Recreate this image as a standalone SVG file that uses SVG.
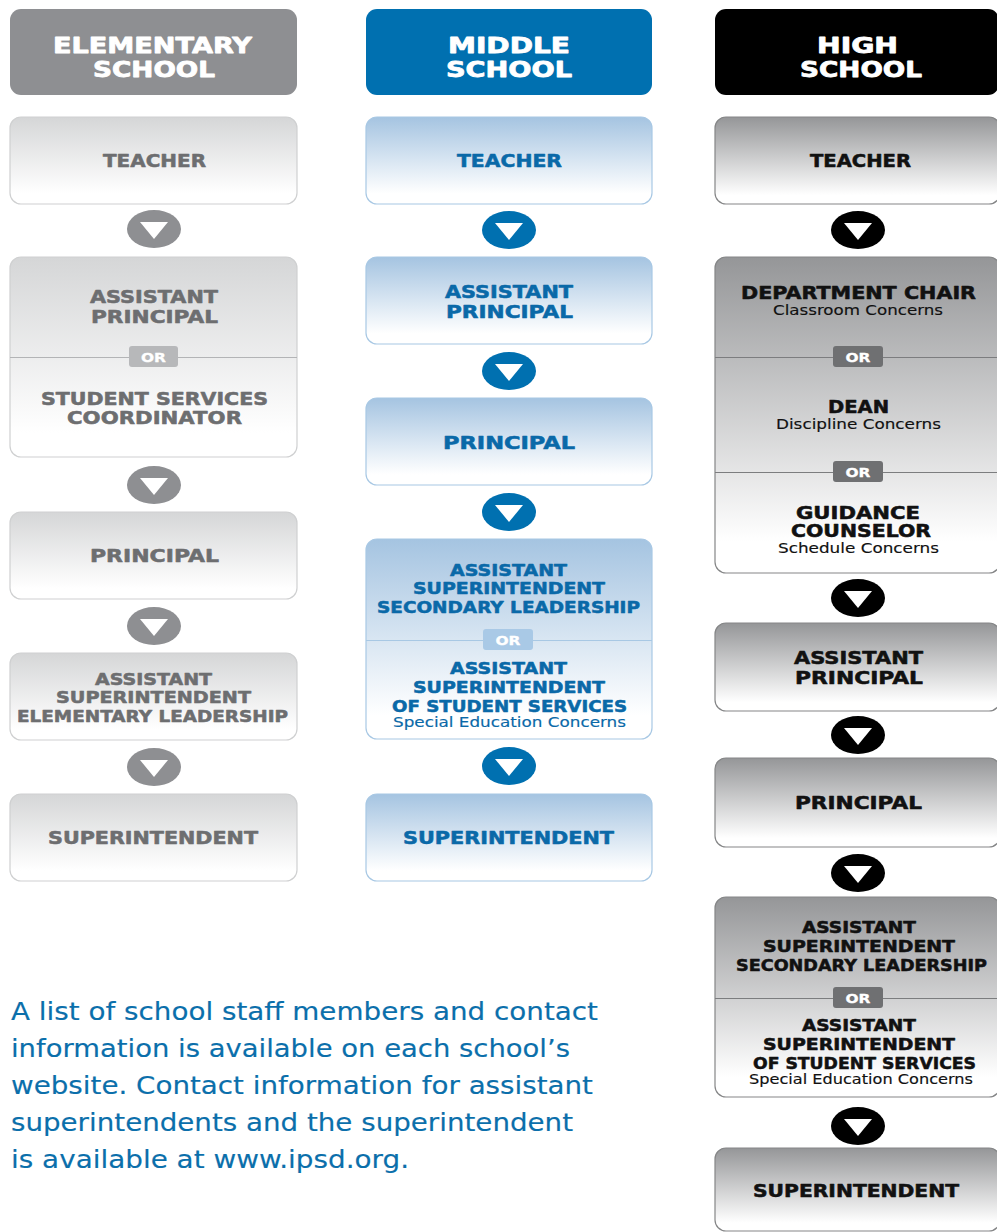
<svg xmlns="http://www.w3.org/2000/svg" width="997" height="1232" viewBox="0 0 997 1232">
<defs>
<linearGradient id="gE" x1="0" y1="0" x2="0" y2="1"><stop offset="0" stop-color="#d5d6d7"/><stop offset="0.88" stop-color="#ffffff"/></linearGradient>
<linearGradient id="gM" x1="0" y1="0" x2="0" y2="1"><stop offset="0" stop-color="#a5c4e1"/><stop offset="0.88" stop-color="#ffffff"/></linearGradient>
<linearGradient id="gH" x1="0" y1="0" x2="0" y2="1"><stop offset="0" stop-color="#959698"/><stop offset="0.9" stop-color="#ffffff"/></linearGradient>
</defs>
<style>
text{font-family:"DejaVu Sans",Verdana,sans-serif;font-weight:bold;text-anchor:middle;font-size:17.5px;stroke-width:0.55px;stroke-linejoin:round}
.e{fill:#6d6e70;stroke:#6d6e70}.m{fill:#0a69a8;stroke:#0a69a8}.h{fill:#111111;stroke:#111111}
.c{font-size:16.5px}
.s{font-weight:normal;font-size:14px;stroke-width:0.15px}
.hd{fill:#ffffff;stroke:#ffffff;font-size:21.5px;stroke-width:0.8px}
.or{fill:#ffffff;stroke:#ffffff;font-size:12.5px;stroke-width:0.3px}
.bE{fill:url(#gE);stroke:#cfd0d1;stroke-width:1.2}
.bM{fill:url(#gM);stroke:#a8c8e4;stroke-width:1.2}
.bH{fill:url(#gH);stroke:#858687;stroke-width:1.2}
.dE{stroke:#b3b4b6;stroke-width:1}
.dM{stroke:#a8c8e4;stroke-width:1}
.dH{stroke:#7c7d7f;stroke-width:1}
.oE{fill:#b7b8ba}.oM{fill:#a9c9e6}.oH{fill:#6f7072}
.aE{fill:#8e8f92}.aM{fill:#0070b0}.aH{fill:#000000}
.tri{fill:#ffffff}
.p{font-weight:normal;font-size:25px;fill:#0b6fab;stroke:#0b6fab;stroke-width:0.15px;text-anchor:start}
</style>

<!-- Headers -->
<g id="hdr-elementary">
<rect x="10" y="9" width="287" height="86" rx="11" fill="#8e8f92"/>
<text class="hd" x="152.5" y="52.5" textLength="199" lengthAdjust="spacingAndGlyphs">ELEMENTARY</text>
<text class="hd" x="154" y="77" textLength="122" lengthAdjust="spacingAndGlyphs">SCHOOL</text>
</g>
<g id="hdr-middle">
<rect x="366" y="9" width="286" height="86" rx="11" fill="#0070b0"/>
<text class="hd" x="509" y="52.5" textLength="122" lengthAdjust="spacingAndGlyphs">MIDDLE</text>
<text class="hd" x="509" y="77" textLength="126" lengthAdjust="spacingAndGlyphs">SCHOOL</text>
</g>
<g id="hdr-high">
<rect x="715" y="9" width="284" height="86" rx="11" fill="#000000"/>
<text class="hd" x="857.5" y="52.5" textLength="81" lengthAdjust="spacingAndGlyphs">HIGH</text>
<text class="hd" x="861" y="77" textLength="122" lengthAdjust="spacingAndGlyphs">SCHOOL</text>
</g>

<!-- Elementary -->
<g id="e-teacher">
<rect class="bE" x="10" y="117" width="287" height="87" rx="11"/>
<text class="e" x="154.5" y="167" textLength="103" lengthAdjust="spacingAndGlyphs">TEACHER</text>
</g>
<g id="e-ap">
<rect class="bE" x="10" y="257" width="287" height="200" rx="11"/>
<line class="dE" x1="10" y1="357.5" x2="297" y2="357.5"/>
<rect class="oE" x="129" y="346" width="49" height="21" rx="3"/>
<text class="or" x="153.5" y="362" textLength="25" lengthAdjust="spacingAndGlyphs">OR</text>
<text class="e" x="154" y="303" textLength="128" lengthAdjust="spacingAndGlyphs">ASSISTANT</text>
<text class="e" x="154.5" y="323" textLength="127" lengthAdjust="spacingAndGlyphs">PRINCIPAL</text>
<text class="e" x="154.5" y="405" textLength="227" lengthAdjust="spacingAndGlyphs">STUDENT SERVICES</text>
<text class="e" x="154.5" y="424" textLength="175" lengthAdjust="spacingAndGlyphs">COORDINATOR</text>
</g>
<g id="e-principal">
<rect class="bE" x="10" y="512" width="287" height="87" rx="11"/>
<text class="e" x="154.5" y="562" textLength="129" lengthAdjust="spacingAndGlyphs">PRINCIPAL</text>
</g>
<g id="e-asup">
<rect class="bE" x="10" y="653" width="287" height="87" rx="11"/>
<text class="e c" x="153.5" y="685" textLength="117" lengthAdjust="spacingAndGlyphs">ASSISTANT</text>
<text class="e c" x="153.5" y="703" textLength="195" lengthAdjust="spacingAndGlyphs">SUPERINTENDENT</text>
<text class="e c" x="152.5" y="722" textLength="271" lengthAdjust="spacingAndGlyphs">ELEMENTARY LEADERSHIP</text>
</g>
<g id="e-super">
<rect class="bE" x="10" y="794" width="287" height="87" rx="11"/>
<text class="e" x="153" y="844" textLength="210" lengthAdjust="spacingAndGlyphs">SUPERINTENDENT</text>
</g>

<!-- Middle -->
<g id="m-teacher">
<rect class="bM" x="366" y="117" width="286" height="87" rx="11"/>
<text class="m" x="509.5" y="167" textLength="105" lengthAdjust="spacingAndGlyphs">TEACHER</text>
</g>
<g id="m-ap">
<rect class="bM" x="366" y="257" width="286" height="87" rx="11"/>
<text class="m" x="509" y="298" textLength="128" lengthAdjust="spacingAndGlyphs">ASSISTANT</text>
<text class="m" x="509.5" y="318" textLength="127" lengthAdjust="spacingAndGlyphs">PRINCIPAL</text>
</g>
<g id="m-principal">
<rect class="bM" x="366" y="398" width="286" height="87" rx="11"/>
<text class="m" x="509" y="449" textLength="132" lengthAdjust="spacingAndGlyphs">PRINCIPAL</text>
</g>
<g id="m-asup">
<rect class="bM" x="366" y="539" width="286" height="200" rx="11"/>
<line class="dM" x1="366" y1="640.5" x2="652" y2="640.5"/>
<rect class="oM" x="483" y="629" width="50" height="21" rx="3"/>
<text class="or" x="508" y="645" textLength="25" lengthAdjust="spacingAndGlyphs">OR</text>
<text class="m c" x="508.5" y="576" textLength="117" lengthAdjust="spacingAndGlyphs">ASSISTANT</text>
<text class="m c" x="509" y="594" textLength="192" lengthAdjust="spacingAndGlyphs">SUPERINTENDENT</text>
<text class="m c" x="508.5" y="613" textLength="263" lengthAdjust="spacingAndGlyphs">SECONDARY LEADERSHIP</text>
<text class="m c" x="508.5" y="674" textLength="117" lengthAdjust="spacingAndGlyphs">ASSISTANT</text>
<text class="m c" x="509" y="693" textLength="192" lengthAdjust="spacingAndGlyphs">SUPERINTENDENT</text>
<text class="m c" x="509.5" y="712" textLength="235" lengthAdjust="spacingAndGlyphs">OF STUDENT SERVICES</text>
<text class="m s" x="509.5" y="727" textLength="233" lengthAdjust="spacingAndGlyphs">Special Education Concerns</text>
</g>
<g id="m-super">
<rect class="bM" x="366" y="794" width="286" height="87" rx="11"/>
<text class="m" x="508.5" y="844" textLength="211" lengthAdjust="spacingAndGlyphs">SUPERINTENDENT</text>
</g>

<!-- High -->
<g id="h-teacher">
<rect class="bH" x="715" y="117" width="285" height="87" rx="11"/>
<text class="h" x="860.5" y="167" textLength="101" lengthAdjust="spacingAndGlyphs">TEACHER</text>
</g>
<g id="h-chair">
<rect class="bH" x="715" y="257" width="285" height="316" rx="11"/>
<line class="dH" x1="715" y1="357.5" x2="1000" y2="357.5"/>
<line class="dH" x1="715" y1="472.5" x2="1000" y2="472.5"/>
<rect class="oH" x="833" y="346" width="50" height="21" rx="3"/>
<text class="or" x="858" y="362" textLength="25" lengthAdjust="spacingAndGlyphs">OR</text>
<rect class="oH" x="833" y="461" width="50" height="21" rx="3"/>
<text class="or" x="858" y="477" textLength="25" lengthAdjust="spacingAndGlyphs">OR</text>
<text class="h" x="858.5" y="299" textLength="235" lengthAdjust="spacingAndGlyphs">DEPARTMENT CHAIR</text>
<text class="h s" x="858" y="315" textLength="170" lengthAdjust="spacingAndGlyphs">Classroom Concerns</text>
<text class="h" x="858.5" y="413" textLength="61" lengthAdjust="spacingAndGlyphs">DEAN</text>
<text class="h s" x="858.5" y="429" textLength="165" lengthAdjust="spacingAndGlyphs">Discipline Concerns</text>
<text class="h" x="858" y="519" textLength="124" lengthAdjust="spacingAndGlyphs">GUIDANCE</text>
<text class="h" x="861" y="537" textLength="140" lengthAdjust="spacingAndGlyphs">COUNSELOR</text>
<text class="h s" x="858.5" y="553" textLength="161" lengthAdjust="spacingAndGlyphs">Schedule Concerns</text>
</g>
<g id="h-ap">
<rect class="bH" x="715" y="623" width="285" height="88" rx="11"/>
<text class="h" x="858.5" y="664" textLength="129" lengthAdjust="spacingAndGlyphs">ASSISTANT</text>
<text class="h" x="859" y="684" textLength="128" lengthAdjust="spacingAndGlyphs">PRINCIPAL</text>
</g>
<g id="h-principal">
<rect class="bH" x="715" y="758" width="285" height="89" rx="11"/>
<text class="h" x="858.5" y="809" textLength="127" lengthAdjust="spacingAndGlyphs">PRINCIPAL</text>
</g>
<g id="h-asup">
<rect class="bH" x="715" y="897" width="285" height="200" rx="11"/>
<line class="dH" x1="715" y1="998.5" x2="1000" y2="998.5"/>
<rect class="oH" x="833" y="987" width="50" height="21" rx="3"/>
<text class="or" x="858" y="1003" textLength="25" lengthAdjust="spacingAndGlyphs">OR</text>
<text class="h c" x="859" y="933" textLength="114" lengthAdjust="spacingAndGlyphs">ASSISTANT</text>
<text class="h c" x="859" y="952" textLength="192" lengthAdjust="spacingAndGlyphs">SUPERINTENDENT</text>
<text class="h c" x="861.5" y="971" textLength="251" lengthAdjust="spacingAndGlyphs">SECONDARY LEADERSHIP</text>
<text class="h c" x="859" y="1031" textLength="114" lengthAdjust="spacingAndGlyphs">ASSISTANT</text>
<text class="h c" x="859" y="1050" textLength="192" lengthAdjust="spacingAndGlyphs">SUPERINTENDENT</text>
<text class="h c" x="864.5" y="1069" textLength="223" lengthAdjust="spacingAndGlyphs">OF STUDENT SERVICES</text>
<text class="h s" x="861" y="1084" textLength="224" lengthAdjust="spacingAndGlyphs">Special Education Concerns</text>
</g>
<g id="h-super">
<rect class="bH" x="715" y="1148" width="285" height="83" rx="11"/>
<text class="h" x="856" y="1197" textLength="206" lengthAdjust="spacingAndGlyphs">SUPERINTENDENT</text>
</g>

<!-- Connectors -->
<g id="connectors">
<g class="aE">
<ellipse cx="154" cy="229" rx="27" ry="19"/>
<ellipse cx="154" cy="485" rx="27" ry="19"/>
<ellipse cx="154" cy="626" rx="27" ry="19"/>
<ellipse cx="154" cy="767" rx="27" ry="19"/>
</g>
<g class="aM">
<ellipse cx="509" cy="230" rx="27" ry="19"/>
<ellipse cx="509" cy="371" rx="27" ry="19"/>
<ellipse cx="509" cy="512" rx="27" ry="19"/>
<ellipse cx="509" cy="766" rx="27" ry="19"/>
</g>
<g class="aH">
<ellipse cx="858" cy="230" rx="27" ry="19"/>
<ellipse cx="858" cy="598" rx="27" ry="19"/>
<ellipse cx="858" cy="735" rx="27" ry="19"/>
<ellipse cx="858" cy="873" rx="27" ry="19"/>
<ellipse cx="858" cy="1126" rx="27" ry="19"/>
</g>
<g class="tri">
<path d="M140,222 L168,222 L154,239 Z"/>
<path d="M140,478 L168,478 L154,495 Z"/>
<path d="M140,619 L168,619 L154,636 Z"/>
<path d="M140,760 L168,760 L154,777 Z"/>
<path d="M495,223 L523,223 L509,240 Z"/>
<path d="M495,364 L523,364 L509,381 Z"/>
<path d="M495,505 L523,505 L509,522 Z"/>
<path d="M495,759 L523,759 L509,776 Z"/>
<path d="M844,223 L872,223 L858,240 Z"/>
<path d="M844,591 L872,591 L858,608 Z"/>
<path d="M844,728 L872,728 L858,745 Z"/>
<path d="M844,866 L872,866 L858,883 Z"/>
<path d="M844,1119 L872,1119 L858,1136 Z"/>
</g>
</g>

<!-- Footnote -->
<g id="note">
<text class="p" x="11" y="1020" textLength="587" lengthAdjust="spacingAndGlyphs">A list of school staff members and contact</text>
<text class="p" x="11" y="1057" textLength="559" lengthAdjust="spacingAndGlyphs">information is available on each school’s</text>
<text class="p" x="11" y="1094" textLength="582" lengthAdjust="spacingAndGlyphs">website. Contact information for assistant</text>
<text class="p" x="11" y="1131" textLength="562" lengthAdjust="spacingAndGlyphs">superintendents and the superintendent</text>
<text class="p" x="11" y="1168" textLength="398" lengthAdjust="spacingAndGlyphs">is available at www.ipsd.org.</text>
</g>
</svg>
